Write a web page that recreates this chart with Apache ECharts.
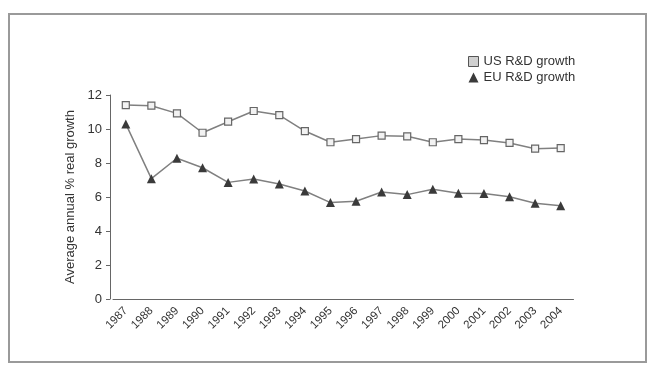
<!DOCTYPE html>
<html><head><meta charset="utf-8">
<script src="https://cdn.jsdelivr.net/npm/echarts@6/dist/echarts.min.js"></script>
<style>html,body{margin:0;padding:0;background:#fff}#c{width:654px;height:370px}</style>
</head><body><div id="c"></div>
<script>
const years = ['1987','1988','1989','1990','1991','1992','1993','1994','1995','1996','1997','1998','1999','2000','2001','2002','2003','2004'];
const usGrowth = [11.41,11.37,10.92,9.78,10.43,11.06,10.82,9.88,9.22,9.41,9.61,9.57,9.22,9.41,9.35,9.18,8.84,8.88];
const euGrowth = [10.3,7.08,8.28,7.72,6.86,7.06,6.76,6.35,5.67,5.75,6.29,6.14,6.45,6.22,6.2,6.02,5.63,5.49];
const yTicks = [0,2,4,6,8,10,12];

const chart = echarts.init(document.getElementById('c'));
const font = 'Liberation Sans, Arial, sans-serif';
chart.setOption({
  animation: false,
  backgroundColor: '#fff',
  graphic: [{type:'rect', shape:{x:9,y:14,width:637,height:348}, style:{fill:'none', stroke:'#9a9a9a', lineWidth:2}, z:-1}],
  grid: {left:113, right:80.5, top:95, bottom:71, containLabel:false},
  legend: {
    orient:'vertical', left:463, top:50, itemGap:3, itemWidth:10, itemHeight:10,
    textStyle:{fontFamily:font, fontSize:13, color:'#333'},
    data:[
      {name:'US R&D growth', icon:'rect', itemStyle:{color:'#d0d0d0', borderColor:'#555', borderWidth:1}},
      {name:'EU R&D growth', icon:'triangle', itemStyle:{color:'#3a3a3a'}}
    ]
  },
  xAxis: {
    type:'category', data:years, offset:4,
    axisLine:{lineStyle:{color:'#666', width:1}},
    axisTick:{alignWithLabel:true, length:4, lineStyle:{color:'#666'}},
    axisLabel:{rotate:45, fontFamily:font, fontSize:11.5, color:'#333', margin:6}
  },
  yAxis: {
    type:'value', min:0, max:12, interval:2, offset:3,
    name:'Average annual % real growth', nameLocation:'middle', nameGap:33,
    nameTextStyle:{fontFamily:font, fontSize:13, color:'#333'},
    axisLine:{show:true, lineStyle:{color:'#666'}},
    axisTick:{show:true, length:4, lineStyle:{color:'#666'}},
    splitLine:{show:false},
    axisLabel:{fontFamily:font, fontSize:13, color:'#333', margin:8,
      formatter: v => yTicks.includes(v) ? String(v) : ''}
  },
  series: [
    {name:'US R&D growth', type:'line', data:usGrowth, symbol:'rect', symbolSize:7,
     lineStyle:{color:'#808080', width:1.5}, itemStyle:{color:'#f2f2f2', borderColor:'#666', borderWidth:1.2}},
    {name:'EU R&D growth', type:'line', data:euGrowth, symbol:'triangle', symbolSize:9,
     lineStyle:{color:'#808080', width:1.5}, itemStyle:{color:'#3a3a3a', borderColor:'#3a3a3a', borderWidth:0}}
  ]
});
</script></body></html>
